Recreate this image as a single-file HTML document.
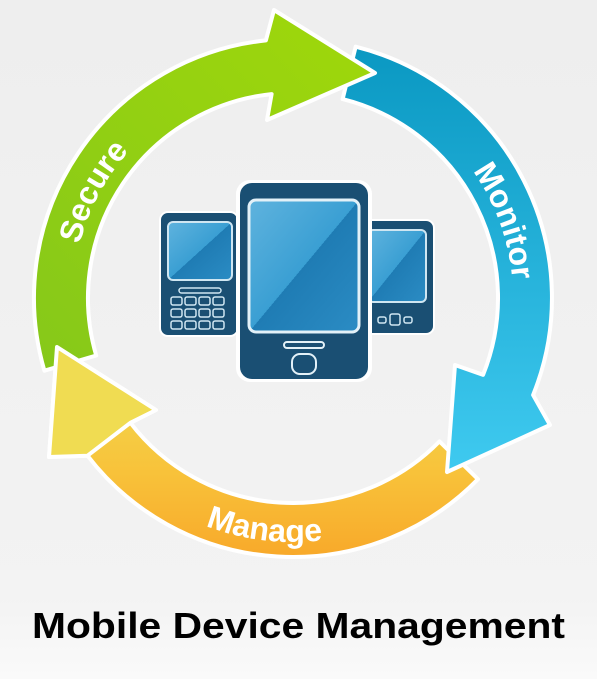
<!DOCTYPE html>
<html><head><style>
html,body{margin:0;padding:0;background:#fff}
svg{display:block}
</style></head><body>
<svg width="597" height="679" viewBox="0 0 597 679" xmlns="http://www.w3.org/2000/svg">
<defs>
<linearGradient id="bg" x1="0" y1="0" x2="0" y2="1"><stop offset="0" stop-color="#eeeeee"/><stop offset="0.88" stop-color="#f3f3f3"/><stop offset="1" stop-color="#fafafa"/></linearGradient>
<linearGradient id="gG" x1="0" y1="1" x2="1" y2="0"><stop offset="0" stop-color="#86c81a"/><stop offset="1" stop-color="#a0d80a"/></linearGradient>
<linearGradient id="gB" x1="0" y1="0" x2="0" y2="1"><stop offset="0" stop-color="#0a98c2"/><stop offset="1" stop-color="#3fcaf0"/></linearGradient>
<linearGradient id="gO" x1="0" y1="0" x2="0" y2="1"><stop offset="0" stop-color="#efe055"/><stop offset="0.6" stop-color="#f8c23a"/><stop offset="1" stop-color="#f8a92a"/></linearGradient>
<linearGradient id="scr" x1="0" y1="0" x2="1" y2="1"><stop offset="0" stop-color="#5fb3de"/><stop offset="0.5" stop-color="#3a9fd3"/><stop offset="0.5" stop-color="#1f7cb4"/><stop offset="1" stop-color="#2b8cc4"/></linearGradient>
<path id="pS" d="M 82.6 362.3 A 220 220 0 0 1 228.7 87.6"/>
<path id="pM" d="M 386 98.6 A 220 220 0 0 1 492.4 391"/>
<path id="pMa" d="M 100.7 448.2 A 244 244 0 0 0 443.2 490.3"/>
</defs>
<rect width="597" height="679" fill="url(#bg)"/>
<g stroke="#fff" stroke-width="4" stroke-linejoin="round">
<path d="M478,479.2 A259 259 0 0 1 87.5,455.7 L49,457 L57,347 L156,410 L130.4,422.8 A205 205 0 0 0 439.5,441.4 Z" fill="url(#gO)"/>
<path d="M355.7,46.7 A259 259 0 0 1 533.1,395 L550,425 L447,472 L455,365 L483.1,374.8 A205 205 0 0 0 342.6,99.1 Z" fill="url(#gB)"/>
<path d="M44.4,370.7 A259 259 0 0 1 265.9,40.4 L274,10 L375,73 L267,120 L271.6,94.1 A205 205 0 0 0 96.2,355.5 Z" fill="url(#gG)"/>
<path d="M87.5,455.7 L49,457 L57,347 L156,410 L130.4,422.8 Z" fill="#f0dc52"/>
</g>
<g font-family="'Liberation Sans',sans-serif" font-weight="bold" font-size="32" fill="#fff">
<text><textPath href="#pS" startOffset="50%" text-anchor="middle">Secure</textPath></text>
<text><textPath href="#pM" startOffset="50%" text-anchor="middle">Monitor</textPath></text>
<text><textPath href="#pMa" startOffset="50%" text-anchor="middle">Manage</textPath></text>
</g>
<!-- phones -->
<g>
<rect x="160" y="212" width="78" height="124" rx="8" fill="#1a4f73" stroke="#fff" stroke-width="2"/>
<rect x="168" y="222" width="64" height="58" rx="5" fill="url(#scr)" stroke="#cfe6f2" stroke-width="2"/>
<rect x="179" y="288" width="42" height="5" rx="2.5" fill="none" stroke="#cfe6f2" stroke-width="1.5"/>
<g fill="none" stroke="#cfe6f2" stroke-width="1.5">
<rect x="171" y="297" width="11" height="8" rx="2"/><rect x="185" y="297" width="11" height="8" rx="2"/><rect x="199" y="297" width="11" height="8" rx="2"/><rect x="213" y="297" width="11" height="8" rx="2"/>
<rect x="171" y="309" width="11" height="8" rx="2"/><rect x="185" y="309" width="11" height="8" rx="2"/><rect x="199" y="309" width="11" height="8" rx="2"/><rect x="213" y="309" width="11" height="8" rx="2"/>
<rect x="171" y="321" width="11" height="8" rx="2"/><rect x="185" y="321" width="11" height="8" rx="2"/><rect x="199" y="321" width="11" height="8" rx="2"/><rect x="213" y="321" width="11" height="8" rx="2"/>
</g>
<rect x="362" y="220" width="72" height="114" rx="8" fill="#1a4f73" stroke="#fff" stroke-width="2"/>
<rect x="368" y="230" width="58" height="72" rx="5" fill="url(#scr)" stroke="#cfe6f2" stroke-width="2"/>
<g fill="none" stroke="#cfe6f2" stroke-width="1.5"><rect x="378" y="317" width="8" height="6" rx="2"/><rect x="390" y="314" width="10" height="11" rx="2"/><rect x="404" y="317" width="8" height="6" rx="2"/></g>
<rect x="236" y="180" width="136" height="202" rx="14" fill="#fff"/>
<rect x="240" y="183" width="128" height="196" rx="12" fill="#1a4f73"/>
<rect x="249" y="200" width="110" height="132" rx="7" fill="url(#scr)" stroke="#e3f1f8" stroke-width="3"/>
<rect x="284" y="342" width="40" height="6" rx="3" fill="none" stroke="#e3f1f8" stroke-width="2"/>
<rect x="292" y="354" width="24" height="20" rx="8" fill="none" stroke="#e3f1f8" stroke-width="2"/>
</g>
<text x="32" y="638" textLength="533" lengthAdjust="spacingAndGlyphs" font-family="'Liberation Sans',sans-serif" font-weight="bold" font-size="36" fill="#000">Mobile Device Management</text>
</svg>
</body></html>
